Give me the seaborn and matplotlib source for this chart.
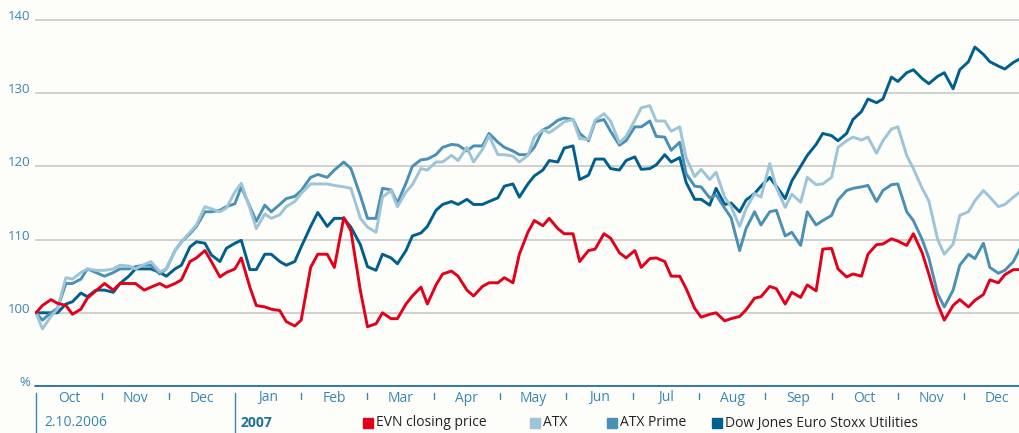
"""
EVN share price vs ATX, ATX Prime and DJ Euro Stoxx Utilities
(indexed, 2.10.2006 = 100), closing values read off the chart
twice a week (Monday and Thursday).
"""

import calendar
import pandas as pd
import matplotlib
matplotlib.use("Agg")
import matplotlib.pyplot as plt
import seaborn as sns
from matplotlib.patches import Rectangle

# 1. Datos: lunes y jueves desde el 2.10.2006
lunes = pd.date_range("2006-10-02", "2007-12-31", freq="W-MON")
jueves = pd.date_range("2006-10-02", "2007-12-31", freq="W-THU")
fechas = lunes.union(jueves)

evn = [100, 101, 101.8, 101.3, 101, 99.8, 100.5, 102, 103,
       104, 103.1, 104, 104, 104, 103.1, 103.5, 104, 103.5,
       104, 104.5, 107, 107.5, 108.5, 107, 104.9, 105.5,
       106, 107.5, 103.5, 101, 100.8, 100.5, 100.3, 98.8, 98.2,
       99, 106.2, 108, 108, 106.2, 113, 111.2, 103,
       98.1, 98.5, 100, 99.2, 99.2, 101.2, 102.3, 103.5, 101.2,
       103.8, 105.3, 105.7, 105, 103.1, 102.3, 103.6, 104.1, 104.1,
       104.8, 104.1, 108, 111, 112.6, 111.9, 112.9, 111.5, 110.8,
       110.8, 107, 108.5, 108.7, 110.8, 110.2, 108.2, 107.5,
       108.5, 106.2, 107.4, 107.5, 107, 105, 105, 103.3, 100.6,
       99.4, 99.8, 100, 98.9, 99.2, 99.5, 100.4, 102, 102.2,
       103.6, 103.3, 101.2, 102.8, 102.1, 103.8, 103, 108.7,
       108.8, 106, 104.9, 105.3, 105, 108, 109.3, 109.4, 110.1,
       109.8, 109.2, 110.8, 108.2, 105.3, 101.2, 99, 101, 101.8,
       100.8, 101.7, 102.5, 104.5, 104.1, 105.2, 105.9, 105.9, 106]

atx = [100, 97.8, 99.5, 100.5, 104.8, 104.6, 105.5, 106, 105.8,
       105.8, 106, 106.5, 106.4, 106, 106.6, 107, 105.6, 106,
       108.5, 109.7, 111, 112, 114.5, 114.2, 113.8, 114.3,
       116.5, 117.7, 114.3, 111.5, 113.5, 112.9, 113.4, 114.5, 115.2,
       116.3, 117.6, 117.6, 117.6, 117.4, 117.2, 117, 112.9,
       111.7, 111, 115.8, 116.7, 114.5, 116.5, 117.5, 119.7, 119.5,
       120.6, 120.6, 121.5, 120.8, 122.6, 120.6, 122.3, 124.2, 121.6,
       121.6, 121.4, 120.6, 121.5, 124, 125, 124.6, 125.4, 126.1,
       126.4, 123.8, 123.7, 126.3, 127.2, 126.2, 123.2, 124.1,
       126.3, 128, 128.3, 126.2, 126.2, 124.8, 125.4, 121.2, 118.6,
       119.6, 118.2, 119.2, 115.8, 114.5, 111.8, 114.2, 116.3, 115.8,
       120.4, 117.1, 114.4, 116.2, 115.1, 118.5, 117.5, 117.6,
       118.5, 122.6, 123.5, 124, 123.6, 124, 121.8, 123.5, 125.1,
       125.4, 121.5, 119.7, 117, 115.3, 110, 108, 109.4, 113.3,
       113.8, 115.3, 116.7, 115.8, 114.5, 114.8, 115.8, 116.5, 116.7]

atx_prime = [100, 99, 100, 100.6, 104, 104, 104.6, 106, 105.5,
             105, 105.5, 106, 106, 106.3, 106.5, 106.5, 105.3, 106,
             108.5, 109.7, 110.8, 111.8, 113.8, 113.8, 114, 114.5,
             114.9, 117.2, 114.5, 112.5, 114.7, 113.8, 114.8, 115.6, 115.9,
             116.7, 118.5, 118.9, 118.5, 119.5, 120.6, 119.7, 116,
             112.9, 112.9, 117, 116.8, 115, 117.7, 120, 120.9, 121,
             121.6, 122.6, 123, 122.9, 122.1, 122.8, 122.8, 124.5, 123.3,
             122.6, 122.1, 121.6, 121.6, 122.6, 125, 125.4, 126.3, 126.6,
             126.4, 124.5, 123.5, 126.1, 126.4, 124.8, 122.9, 123.5,
             125.4, 125.4, 126.2, 124.1, 124, 122.2, 123.3, 119, 117.3,
             117.2, 115.7, 116.1, 114.3, 113, 108.5, 111.5, 113.8, 112,
             113.8, 114, 110.5, 111, 109.2, 113.8, 112, 112.6,
             113.3, 115.4, 116.7, 117, 117.2, 117.4, 115.2, 116.7, 117.5,
             117.6, 113.8, 112.6, 110, 107.5, 102.6, 100.8, 103.1, 106.5,
             108, 107.4, 109.5, 106.2, 105.4, 105.8, 107, 108.7, 109]

dj_utilities = [100, 100, 100, 100, 101.2, 101.5, 102.7, 102.2, 103.1,
                103.1, 102.8, 104, 105, 106, 106, 106, 105.5, 105,
                106, 106.5, 109, 109.7, 109.5, 107.9, 107, 108.8,
                109.5, 109.9, 105.9, 105.9, 108, 108, 107, 106.5, 107,
                109, 111.8, 113.7, 111.8, 112.9, 112.9, 111.7, 109.3,
                106.3, 105.8, 108, 107.5, 106.7, 108.5, 110.5, 110.9, 111.8,
                114, 114.8, 115.2, 114.8, 115.5, 114.8, 114.8, 115.2, 115.7,
                117.3, 117.6, 115.8, 117.6, 118.7, 119.5, 120.8, 120.6, 122.5,
                122.8, 118.2, 118.8, 121, 121, 119.7, 119.5, 120.8,
                121.3, 119.6, 119.7, 120.2, 121.6, 120.6, 121.2, 117.8, 115.5,
                115.5, 114.7, 117, 114.8, 115, 113.8, 115.4, 116.3, 117.3,
                118.5, 117.3, 115.6, 118, 120, 121.5, 123, 124.5,
                124.2, 123.5, 124.5, 126.4, 127.5, 129.2, 128.7, 129.2, 132.2,
                131.6, 132.8, 133.2, 132, 131.3, 132.3, 132.8, 130.6, 133.2,
                134.3, 136.3, 135.3, 134.3, 133.7, 133.3, 134.2, 134.7, 134.8]

series = ["EVN closing price", "ATX", "ATX Prime", "Dow Jones Euro Stoxx Utilities"]
meses = ["Oct", "Nov", "Dec", "Jan", "Feb", "Mar", "Apr", "May",
         "Jun", "Jul", "Aug", "Sep", "Oct", "Nov", "Dec"]
marcas_y = [100, 110, 120, 130, 140]

colores = {
    "EVN closing price": "#e2001a",
    "ATX": "#9dc4d7",
    "ATX Prime": "#4a90b5",
    "Dow Jones Euro Stoxx Utilities": "#005f8c",
}
FONDO = "#fdfdfa"
AZUL_TXT = "#3a86b0"
AZUL_EJE = "#20709c"


def posicion_mes(d):
    # meses de igual ancho: Oct 2006 = 0, el 2.10 cae en 0
    dias = calendar.monthrange(d.year, d.month)[1]
    dia0 = 2 if (d.year, d.month) == (2006, 10) else 1
    return (d.year - 2006) * 12 + d.month - 10 + max(d.day - dia0, 0) / dias


# Tabla larga para seaborn
df = pd.concat([
    pd.DataFrame({"fecha": fechas, "valor": valores, "serie": nombre})
    for nombre, valores in zip(series, [evn, atx, atx_prime, dj_utilities])
])
df["pos"] = df["fecha"].apply(posicion_mes)

# 2. Figura
sns.set_theme(style="white")
plt.rcParams["font.family"] = ["Open Sans", "DejaVu Sans"]

fig = plt.figure(figsize=(10.2, 4.33), dpi=100, facecolor=FONDO)
ax = fig.add_axes([35 / 1020, 47 / 433, 985 / 1020, 386 / 433])
ax.set_facecolor(FONDO)

for v in marcas_y:
    ax.axhline(v, color="#c4c4c4", lw=1.1, zorder=0)
ax.axhline(90, color=AZUL_EJE, lw=1.3, clip_on=False, zorder=3)

sns.lineplot(data=df, x="pos", y="valor", hue="serie",
             hue_order=series[::-1], palette=colores, linewidth=2.1,
             estimator=None, sort=False, legend=False, ax=ax)

ax.set_xlim(-0.015, 14.842)
ax.set_ylim(90, 142.73)
ax.set_xticks([])
ax.set_yticks([])
ax.set_xlabel("")
ax.set_ylabel("")
sns.despine(ax=ax, left=True, bottom=True)

# Etiquetas del eje Y (sobre la línea)
for v in marcas_y:
    ax.text(-0.005, v, str(v), transform=ax.get_yaxis_transform(),
            ha="right", va="baseline", fontsize=9.5, color=AZUL_TXT)
ax.text(-0.005, 90, "%", transform=ax.get_yaxis_transform(),
        ha="right", va="baseline", fontsize=9.5, color=AZUL_TXT)

# Eje X: separadores de mes y nombres
tr = ax.get_xaxis_transform()
for i in range(len(meses)):
    largo = -47 / 386 if i in (0, 3) else -13 / 386
    ax.plot([i, i], [-7 / 386, largo], transform=tr, clip_on=False,
            color=AZUL_TXT, lw=1.0)
    ax.text(i + 0.5, -12 / 386, meses[i], transform=tr, ha="center",
            va="center", fontsize=10, color=AZUL_TXT)

ax.text(0.12, -37 / 386, "2.10.2006", transform=tr, ha="left",
        va="center", fontsize=10, color=AZUL_TXT)
ax.text(3.09, -37 / 386, "2007", transform=tr, ha="left",
        va="center", fontsize=10, color=AZUL_EJE, fontweight="bold")

# Leyenda manual
inicios = [363, 530, 607, 712]
for x0, nombre in zip(inicios, series):
    fig.patches.append(Rectangle((x0 / 1020, 5 / 433), 10 / 1020, 10 / 433,
                                 transform=fig.transFigure,
                                 color=colores[nombre]))
    fig.text((x0 + 13) / 1020, 10 / 433, nombre, ha="left", va="center",
             fontsize=10, color="#222222")

fig.savefig("out.png", dpi=100, facecolor=FONDO)
